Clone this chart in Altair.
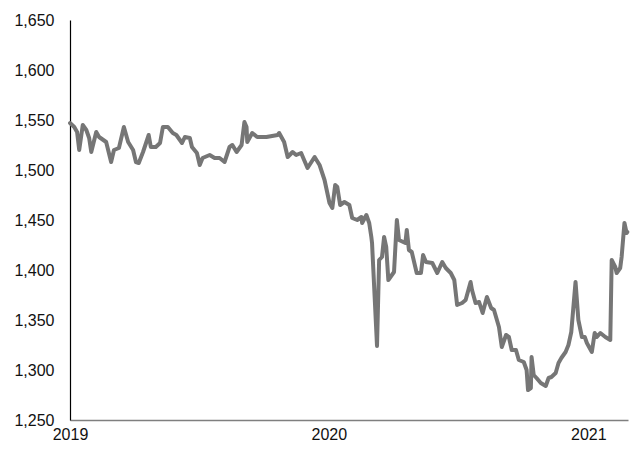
import altair as alt
import pandas as pd

# Days elapsed since 2019-01-01 for each observation, and the index value
day_offset = [0, 6, 10, 13, 18, 23, 27, 30, 37, 41, 51, 58, 62, 69, 76, 82, 89, 93, 97, 103,
              111, 114, 121, 127, 131, 138, 145, 150, 158, 162, 169, 172, 179, 183, 187, 197,
              204, 211, 218, 225, 229, 235, 242, 246, 249, 250, 257, 264, 277, 293, 295, 302,
              307, 314, 319, 326, 335, 345, 352, 359, 366, 370, 374, 377, 381, 387, 394, 398,
              405, 411, 412, 418, 422, 425, 426, 433, 436, 440, 443, 446, 449, 454, 457, 461,
              464, 473, 475, 478, 482, 489, 495, 498, 502, 511, 518, 525, 530, 537, 542, 546,
              553, 558, 565, 567, 572, 577, 582, 588, 594, 598, 605, 609, 615, 619, 623, 629,
              633, 640, 644, 646, 650, 651, 654, 658, 664, 671, 675, 679, 685, 689, 693, 699,
              703, 707, 713, 717, 722, 726, 729, 736, 740, 743, 748, 755, 762, 764, 769, 771,
              776, 778, 782, 785, 786]
values = [1547, 1543, 1538, 1520, 1545, 1540, 1532, 1518, 1538, 1533, 1528, 1508, 1520, 1522,
          1543, 1528, 1520, 1508, 1507, 1518, 1535, 1523, 1523, 1527, 1543, 1543, 1537, 1535,
          1527, 1533, 1532, 1523, 1517, 1505, 1512, 1515, 1512, 1512, 1508, 1523, 1525, 1518,
          1525, 1548, 1543, 1528, 1537, 1533, 1533, 1535, 1537, 1528, 1513, 1518, 1515, 1517,
          1502, 1513, 1505, 1490, 1467, 1462, 1485, 1483, 1465, 1468, 1465, 1452, 1450, 1453,
          1447, 1455, 1447, 1433, 1427, 1324, 1410, 1413, 1433, 1423, 1390, 1395, 1398, 1450,
          1430, 1427, 1440, 1420, 1418, 1397, 1397, 1415, 1408, 1407, 1397, 1408, 1402, 1397,
          1390, 1365, 1367, 1370, 1388, 1380, 1367, 1368, 1357, 1373, 1362, 1360, 1343, 1323,
          1335, 1333, 1320, 1320, 1310, 1308, 1300, 1280, 1282, 1313, 1295, 1292, 1287, 1284,
          1292, 1293, 1297, 1307, 1312, 1318, 1325, 1338, 1388, 1350, 1333, 1333, 1327, 1318,
          1337, 1333, 1337, 1333, 1330, 1410, 1403, 1397, 1402, 1413, 1447, 1437, 1438]

y_ticks = [1250, 1300, 1350, 1400, 1450, 1500, 1550, 1600, 1650]
x_ticks = ["2019-01-01", "2020-01-01", "2021-01-01"]

dates = pd.Timestamp("2019-01-01") + pd.to_timedelta(day_offset, unit="D")
df = pd.DataFrame({"date": dates, "value": values})

font = "Liberation Sans"

chart = alt.Chart(df).mark_line(
    color="#767676", strokeWidth=4, strokeJoin="round", strokeCap="round"
).encode(
    x=alt.X(
        "date:T",
        title=None,
        scale=alt.Scale(domain=["2019-01-01", "2021-02-26"]),
        axis=alt.Axis(
            values=[pd.Timestamp(t).isoformat() for t in x_ticks],
            format="%Y",
            grid=False,
            ticks=False,
            domainColor="#7f7f7f",
            domainWidth=1.5,
            labelFont=font,
            labelFontSize=16,
            labelColor="#111111",
            labelPadding=6,
            labelAlign="center",
        ),
    ),
    y=alt.Y(
        "value:Q",
        title=None,
        scale=alt.Scale(domain=[1250, 1650], zero=False, nice=False),
        axis=alt.Axis(
            values=y_ticks,
            format=",.0f",
            grid=False,
            ticks=False,
            domainColor="#000000",
            domainWidth=1.2,
            labelFont=font,
            labelFontSize=16,
            labelColor="#111111",
            labelPadding=16,
        ),
    ),
).properties(
    width=558,
    height=400,
    autosize=alt.AutoSizeParams(type="none"),
    padding={"left": 62, "top": 12, "right": 2, "bottom": 22},
).configure_view(stroke=None)

chart.save("out.html", embed_options={"renderer": "svg", "actions": False})
